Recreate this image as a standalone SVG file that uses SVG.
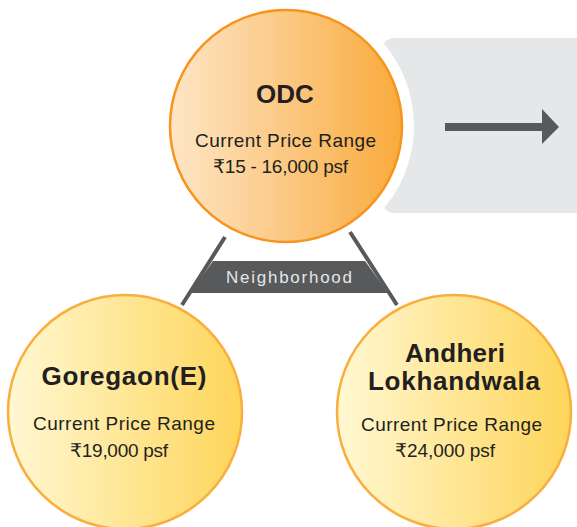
<svg xmlns="http://www.w3.org/2000/svg" width="577" height="527" viewBox="0 0 577 527">
<defs>
<linearGradient id="gOrange" x1="0" y1="0" x2="1" y2="0">
<stop offset="0" stop-color="#fee6c8"/>
<stop offset="1" stop-color="#f9aa3c"/>
</linearGradient>
<linearGradient id="gYellow" x1="0" y1="0" x2="1" y2="0">
<stop offset="0" stop-color="#fff8d2"/>
<stop offset="1" stop-color="#fed55a"/>
</linearGradient>
<style>
.title{font-family:"Liberation Sans",Arial,sans-serif;font-weight:bold;font-size:26px;fill:#231f20;text-anchor:middle}
.body{font-family:"Liberation Sans","DejaVu Sans",Arial,sans-serif;font-size:19px;fill:#231f20}
.nb{font-family:"Liberation Sans",Arial,sans-serif;font-size:17px;fill:#e6e7e8;text-anchor:middle}
.conn{stroke:#58595b;stroke-width:4;fill:none}
</style>
</defs>
<g id="panel">
<rect x="382" y="38" width="220" height="175" rx="12" fill="#e6e7e8"/>
<circle cx="286" cy="126" r="128" fill="#ffffff"/>
<rect x="445" y="123" width="99" height="8" fill="#58595b"/>
<polygon points="542,109 559,127 542,144" fill="#58595b"/>
</g>
<g id="connectors">
<line class="conn" x1="225" y1="237" x2="182" y2="305"/>
<line class="conn" x1="350" y1="232" x2="397" y2="305"/>
<polygon points="213,261 365,261 388,293 190,293" fill="#58595b"/>
<text class="nb" x="289" y="283" textLength="126" lengthAdjust="spacing">Neighborhood</text>
</g>
<g id="odc">
<circle cx="286" cy="126" r="116" fill="url(#gOrange)" stroke="#f7941d" stroke-width="2.5"/>
<text class="title" x="285" y="103">ODC</text>
<text class="body" x="195" y="147" textLength="181" lengthAdjust="spacing">Current Price Range</text>
<text class="body" x="213" y="173" textLength="135" lengthAdjust="spacing">₹15 - 16,000 psf</text>
</g>
<g id="goregaon">
<circle cx="125" cy="412" r="117" fill="url(#gYellow)" stroke="#f9ae3e" stroke-width="2.5"/>
<text class="title" x="124" y="385" textLength="165" lengthAdjust="spacing">Goregaon(E)</text>
<text class="body" x="33" y="430" textLength="182" lengthAdjust="spacing">Current Price Range</text>
<text class="body" x="70" y="457" textLength="98" lengthAdjust="spacing">₹19,000 psf</text>
</g>
<g id="andheri">
<circle cx="454" cy="412" r="117" fill="url(#gYellow)" stroke="#f9ae3e" stroke-width="2.5"/>
<text class="title" x="455" y="362" textLength="100" lengthAdjust="spacing">Andheri</text>
<text class="title" x="454" y="390" textLength="172" lengthAdjust="spacing">Lokhandwala</text>
<text class="body" x="361" y="431" textLength="181" lengthAdjust="spacing">Current Price Range</text>
<text class="body" x="395" y="457" textLength="100" lengthAdjust="spacing">₹24,000 psf</text>
</g>
</svg>
